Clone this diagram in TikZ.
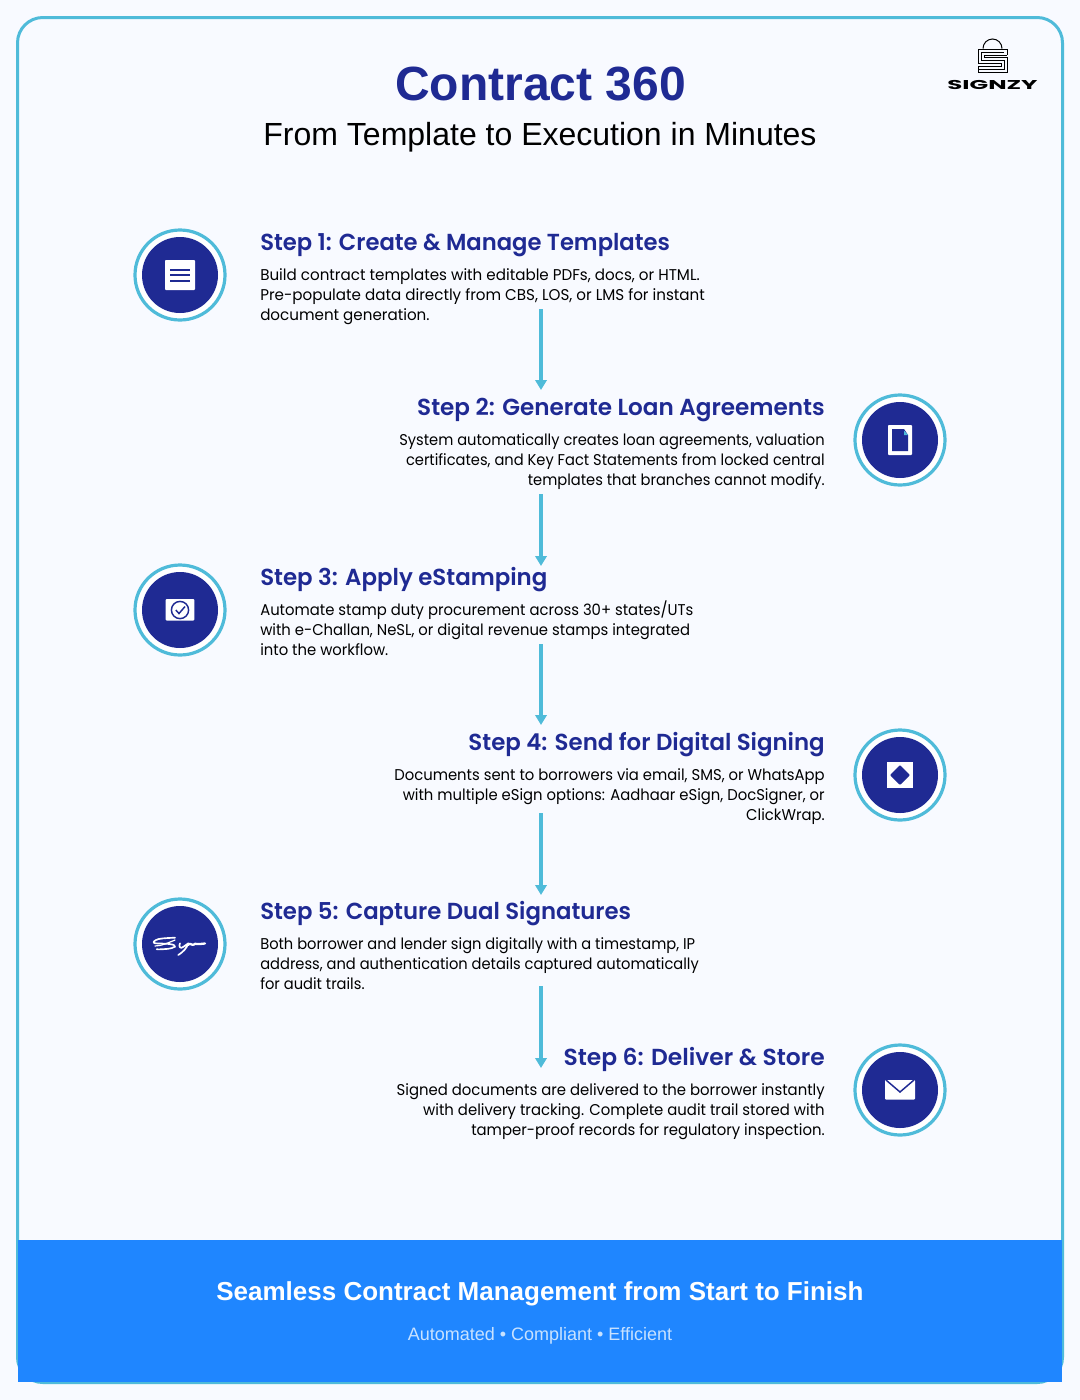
\documentclass[tikz,border=0pt]{standalone}
\usepackage{fontspec}
\usepackage{graphicx}
\setmainfont{Liberation Sans}
\newcommand{\bodyat}[1]{\fontspec{Poppins}[FakeStretch=#1]\fontsize{11.7}{15}\selectfont}
\newcommand{\headat}[1]{\fontspec{Poppins SemiBold}[FakeStretch=#1]\fontsize{17.4}{20}\selectfont}
\newfontfamily\logofam{Poppins}
\usetikzlibrary{arrows.meta}
\definecolor{pagebg}{HTML}{F8FAFF}
\definecolor{teal}{HTML}{4FBBD9}
\definecolor{navy}{HTML}{1F2A93}
\definecolor{band}{HTML}{1F86FF}
\definecolor{subtxt}{HTML}{C8E2FF}
\tikzset{
  ringouter/.style={circle,draw=teal,fill=white,line width=2.4pt,minimum size=67.5pt,inner sep=0pt},
  ringinner/.style={circle,fill=navy,minimum size=57pt,inner sep=0pt},
  steptitle/.style={inner sep=0pt,text=navy,font=\headat{#1}},
  leftbody/.style={inner sep=0pt,anchor=north west,align=left,text=black,font=\bodyat{#1}},
  rightbody/.style={inner sep=0pt,anchor=north east,align=right,text=black,font=\bodyat{#1}},
  flow/.style={draw=teal,line width=2.4pt,-{Triangle[length=7.5pt,width=8.5pt,fill=teal]}},
  logoline/.style={black,line width=0.75pt},
  signline/.style={white,line width=1.25pt,line cap=round,line join=round},
}
\begin{document}
\begin{tikzpicture}[x=0.75pt,y=-0.75pt]
\useasboundingbox (0,0) rectangle (1080,1400);
\fill[pagebg] (0,0) rectangle (1080,1400);
\draw[teal,line width=2.25pt,rounded corners=19pt,fill=pagebg] (17.5,17.5) rectangle (1062.5,1382.5);
\fill[band] (18,1240) rectangle (1062,1382);

% header
\node[inner sep=0pt,anchor=base,text=navy,font=\bfseries\fontsize{36}{40}\selectfont] (title) at (540.5,100) {Contract 360};
\node[inner sep=0pt,anchor=base,text=black,font=\fontsize{24}{28}\selectfont] (subtitle) at (540,145) {From Template to Execution in Minutes};

% logo
\draw[logoline] (983,48.5) arc[start angle=180,end angle=360,radius=9.5];
\draw[logoline] (1007,55) -- (1007,49) -- (978,49) -- (978,63) -- (1001,63) -- (1001,66) -- (978,66) -- (978,72);
\draw[logoline] (1004,52) -- (981,52) -- (981,60) -- (1004,60) -- (1004,69) -- (978,69);
\draw[logoline] (1007,55) -- (984,55) -- (984,57) -- (1007,57) -- (1007,72) -- (978,72);
\node[inner sep=0pt,anchor=base,text=black] (logotext) at (992.5,89) {\scalebox{1.91}[1]{\logofam\bfseries\fontsize{9.6}{12}\selectfont SIGNZY}};

% step 1
\node[ringouter] (c1) at (180,275) {};
\node[ringinner] (d1) at (c1) {};
\fill[white,rounded corners=0.7pt] (165,260) rectangle (195,290);
\draw[navy,line width=1.5pt] (170,269.5) -- (190,269.5) (170,275) -- (190,275) (170,280.5) -- (190,280.5);
\node[steptitle=0.977,anchor=base west] (t1) at (260,250) {Step 1: Create \& Manage Templates};
\node[leftbody=0.97] (b1) at (260,266) {\strut Build contract templates with editable PDFs, docs, or HTML.\\Pre-populate data directly from CBS, LOS, or LMS for instant\\document generation.};

% step 2
\node[ringouter] (c2) at (900,440) {};
\node[ringinner] (d2) at (c2) {};
\fill[white,rounded corners=0.7pt] (888,425) rectangle (912,455);
\fill[navy] (892,429) -- (904,429) -- (908,435) -- (908,451) -- (892,451) -- cycle;
\fill[teal] (904,430.5) -- (908,435) -- (904,435) -- cycle;
\node[steptitle=0.996,anchor=base east] (t2) at (825,415) {Step 2: Generate Loan Agreements};
\node[rightbody=0.94] (b2) at (825,431) {\strut System automatically creates loan agreements, valuation\\certificates, and Key Fact Statements from locked central\\templates that branches cannot modify.};

% step 3
\node[ringouter] (c3) at (180,610) {};
\node[ringinner] (d3) at (c3) {};
\fill[white,rounded corners=0.7pt] (165.7,599) rectangle (194.3,620.5);
\draw[navy,line width=1.1pt] (180,610) circle[radius=8.6];
\draw[navy,line width=1.1pt] (175.8,610) -- (179,613.5) -- (185,606.5);
\node[steptitle=0.987,anchor=base west] (t3) at (260,585) {Step 3: Apply eStamping};
\node[leftbody=0.95] (b3) at (260,601) {\strut Automate stamp duty procurement across 30+ states/UTs\\with e-Challan, NeSL, or digital revenue stamps integrated\\into the workflow.};

% step 4
\node[ringouter] (c4) at (900,775) {};
\node[ringinner] (d4) at (c4) {};
\fill[white] (887.3,762.3) rectangle (912.7,787.7);
\fill[navy,rounded corners=0.7pt] (900,765) -- (910,775) -- (900,785) -- (890,775) -- cycle;
\node[steptitle=0.986,anchor=base east] (t4) at (825,750) {Step 4: Send for Digital Signing};
\node[rightbody=0.95] (b4) at (825,766) {\strut Documents sent to borrowers via email, SMS, or WhatsApp\\with multiple eSign options: Aadhaar eSign, DocSigner, or\\ClickWrap.};

% step 5
\node[ringouter] (c5) at (180,944) {};
\node[ringinner] (d5) at (c5) {};
\draw[signline] (175,937.7) .. controls (166,938) and (158,938.5) .. (156,940) .. controls (152,942) and (153,943.5) .. (158,943.5) .. controls (166,943.5) and (176,944) .. (175,946.7) .. controls (172,949) and (162,949.5) .. (156.7,949.3);
\draw[signline,line width=0.9pt] (155,946) .. controls (162,946) and (170,942) .. (175,940);
\draw[signline] (180,943.3) .. controls (178,947) and (181,949) .. (183,947) .. controls (185,946) and (187,944) .. (188.3,943.3) .. controls (187,948) and (183,952) .. (178.3,955);
\draw[signline,line width=1.7pt] (188,945) .. controls (190,942) and (192,946) .. (194,944.5) .. controls (196,942) and (197,946) .. (200,944) .. controls (202,942.5) and (203,945) .. (205,943.5);
\node[steptitle=0.982,anchor=base west] (t5) at (260,919) {Step 5: Capture Dual Signatures};
\node[leftbody=0.94] (b5) at (260,935) {\strut Both borrower and lender sign digitally with a timestamp, IP\\address, and authentication details captured automatically\\for audit trails.};

% step 6
\node[ringouter] (c6) at (900,1090) {};
\node[ringinner] (d6) at (c6) {};
\fill[white,rounded corners=0.7pt] (885,1080) rectangle (915,1099.5);
\draw[navy,line width=1.1pt] (886,1080) -- (900,1092) -- (914,1080);
\node[steptitle=1.008,anchor=base east] (t6) at (825,1065) {Step 6: Deliver \& Store};
\node[rightbody=0.954] (b6) at (825,1081) {\strut Signed documents are delivered to the borrower instantly\\with delivery tracking. Complete audit trail stored with\\tamper-proof records for regulatory inspection.};

% connectors
\coordinate (a1) at (541,309); \coordinate (e1) at (541,390);
\coordinate (a2) at (541,494); \coordinate (e2) at (541,566);
\coordinate (a3) at (541,644); \coordinate (e3) at (541,725);
\coordinate (a4) at (541,813); \coordinate (e4) at (541,895);
\coordinate (a5) at (541,986); \coordinate (e5) at (541,1068);
\draw[flow] (a1) -- (e1);
\draw[flow] (a2) -- (e2);
\draw[flow] (a3) -- (e3);
\draw[flow] (a4) -- (e4);
\draw[flow] (a5) -- (e5);

% footer
\node[inner sep=0pt,anchor=base,text=white,font=\bfseries\fontsize{19.5}{24}\selectfont] (foot) at (540,1300.5) {Seamless Contract Management from Start to Finish};
\node[inner sep=0pt,anchor=base,text=subtxt,font=\fontsize{13.5}{16}\selectfont] (foot2) at (540,1340) {Automated • Compliant • Efficient};
\end{tikzpicture}
\end{document}
